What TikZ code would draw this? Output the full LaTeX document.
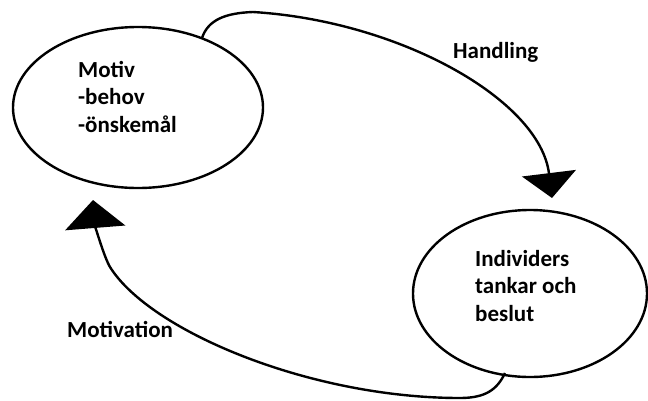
\documentclass[tikz,border=0pt]{standalone}
\usepackage{fontspec}
\setmainfont{Carlito}
\usetikzlibrary{arrows.meta,shapes.geometric}
\begin{document}
\begin{tikzpicture}[x=1pt,y=-1pt,
  bubble/.style={draw, ellipse, line width=2.4pt, inner sep=0pt, outer sep=0pt},
  lbl/.style={font=\fontsize{23}{27.5}\selectfont\bfseries, inner sep=0pt, anchor=base west, align=left},
  conn/.style={line width=2.4pt}]
\useasboundingbox (0,0) rectangle (648,400);
\node[bubble, minimum width=250pt, minimum height=161pt] (e1) at (138,107.5) {};
\node[bubble, minimum width=234pt, minimum height=167pt] (e2) at (530,293.5) {};
% base anchor of a multi-line node sits on its last line
\node[lbl] (t1) at (78,132) {Motiv\\-behov\\-önskemål};
\node[lbl] (t2) at (475,321) {Individers\\tankar och\\beslut};
\node[lbl] (lh) at (453,58) {Handling};
\node[lbl] (lm) at (67,337) {Motivation};
\coordinate (hs) at (202,38);
\coordinate (hend) at (552,198);
\coordinate (ms) at (505,373);
\coordinate (mend) at (93,200);
\draw[conn, -{Triangle[length=25pt,width=54pt]}] (hs) .. controls (208,20) and (225,13) .. (253,12)
  .. controls (400,21) and (540,100) .. (hend);
\draw[conn, -{Triangle[length=28pt,width=60pt]}] (ms) .. controls (497,390) and (485,398) .. (460,398)
  .. controls (310,398) and (150,331) .. (110,267)
  .. controls (104,257) and (95,225) .. (mend);
\end{tikzpicture}
\end{document}
